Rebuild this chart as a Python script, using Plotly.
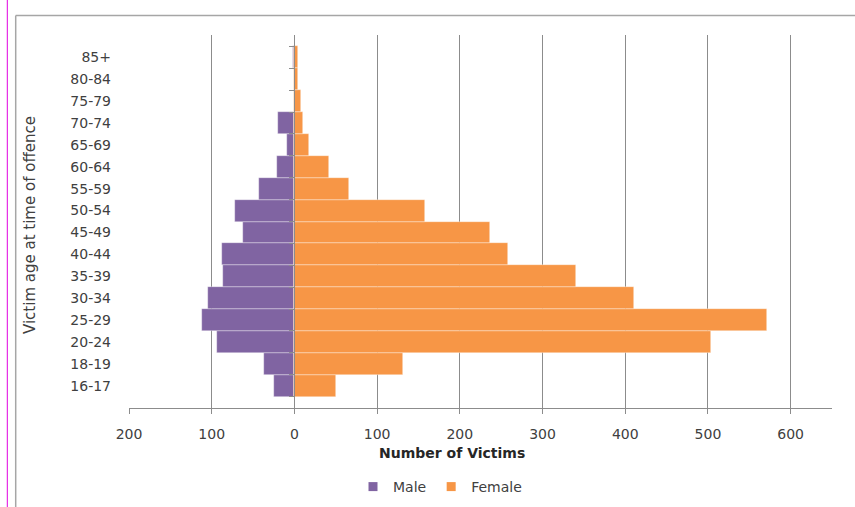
import plotly.graph_objects as go

ages = ["16-17", "18-19", "20-24", "25-29", "30-34", "35-39", "40-44", "45-49",
        "50-54", "55-59", "60-64", "65-69", "70-74", "75-79", "80-84", "85+"]
male = [25, 37, 94, 112, 105, 86, 88, 62, 72, 43, 21, 9, 20, 1, 1, 2]
female = [50, 131, 504, 572, 410, 340, 258, 236, 158, 66, 42, 18, 10, 8, 4, 4]

tick_vals = [-200, -100, 0, 100, 200, 300, 400, 500, 600]
tick_text = [str(abs(v)) for v in tick_vals]

PURPLE = "#8064A2"
ORANGE = "#F79646"
GRID = "#8C8C8C"
TXT = "#404040"
FONT = "'DejaVu Sans', sans-serif"
FS = 14

fig = go.Figure()
fig.add_trace(go.Bar(y=ages, x=[-m for m in male], orientation="h", name="Male",
                     showlegend=False,
                     marker=dict(color=PURPLE, line=dict(color="rgba(255,255,255,0.6)", width=0.6))))
fig.add_trace(go.Bar(y=ages, x=female, orientation="h", name="Female",
                     showlegend=False,
                     marker=dict(color=ORANGE, line=dict(color="rgba(255,255,255,0.6)", width=0.6))))
# legend entries (square markers like the original)
for nm, col in (("Male", PURPLE), ("Female", ORANGE)):
    fig.add_trace(go.Scatter(x=[None], y=[None], mode="markers", name=nm,
                             marker=dict(symbol="square", size=9, color=col)))
# helper trace for the zero-line category axis
fig.add_trace(go.Scatter(y=ages, x=[0] * len(ages), yaxis="y2", mode="markers",
                         marker=dict(opacity=0), showlegend=False, hoverinfo="skip"))

L, R, T, B = 129, 855 - 832, 35, 507 - 408
PW, PH = 855 - L - R, 507 - T - B


def px(xp):
    return (xp - L) / PW


def py(yp):
    return (507 - B - yp) / PH


fig.update_layout(
    width=855, height=507,
    margin=dict(l=L, r=R, t=T, b=B, autoexpand=False),
    paper_bgcolor="white", plot_bgcolor="white",
    barmode="relative", bargap=0,
    font=dict(family=FONT, size=FS, color=TXT),
    xaxis=dict(range=[-200, 650], tickvals=tick_vals, ticktext=tick_text,
               showgrid=True, gridcolor=GRID, gridwidth=1.3, zeroline=False,
               showline=True, linecolor=GRID, linewidth=1.3,
               ticks="outside", ticklen=5, tickcolor=GRID, tickwidth=1.3,
               ticklabelstandoff=8,
               tickfont=dict(size=FS, color=TXT), fixedrange=True),
    yaxis=dict(type="category", categoryorder="array", categoryarray=ages,
               showgrid=False, zeroline=False, showline=False, ticks="",
               ticklabelstandoff=17, tickfont=dict(size=FS, color=TXT)),
    yaxis2=dict(type="category", categoryorder="array", categoryarray=ages,
                overlaying="y", anchor="free", position=200 / 850, matches="y",
                showgrid=False, zeroline=False, showline=True, linecolor=GRID, linewidth=1.3,
                ticks="outside", ticklen=5, tickcolor=GRID, tickwidth=1.3,
                tickson="boundaries", showticklabels=False),
    legend=dict(orientation="h", x=px(440), xanchor="center", y=py(487), yanchor="middle",
                font=dict(size=FS, color=TXT), itemwidth=30, traceorder="normal"),
    showlegend=True,
)

fig.add_annotation(text="<b>Number of Victims</b>", xref="paper", yref="paper",
                   x=px(452), y=py(453), xanchor="center", yanchor="middle",
                   showarrow=False, font=dict(size=FS, color="#262626"))
fig.add_annotation(text="Victim age at time of offence", xref="paper", yref="paper",
                   x=px(30), y=py(225), xanchor="center", yanchor="middle", textangle=-90,
                   showarrow=False, font=dict(size=15, color=TXT))

# chart frame and left-edge line
fig.add_shape(type="line", xref="paper", yref="paper", x0=px(15.7), x1=px(870),
              y0=py(15.5), y1=py(15.5), line=dict(color="#A6A6A6", width=1.5))
fig.add_shape(type="line", xref="paper", yref="paper", x0=px(15.7), x1=px(15.7),
              y0=py(15.5), y1=py(520), line=dict(color="#A6A6A6", width=1.5))
fig.add_shape(type="line", xref="paper", yref="paper", x0=px(7.3), x1=px(7.3),
              y0=py(-5), y1=py(520), line=dict(color="#E000E0", width=1))

fig.write_html("out.html", config={"displayModeBar": False},
               post_script="document.body.style.margin='0';")
